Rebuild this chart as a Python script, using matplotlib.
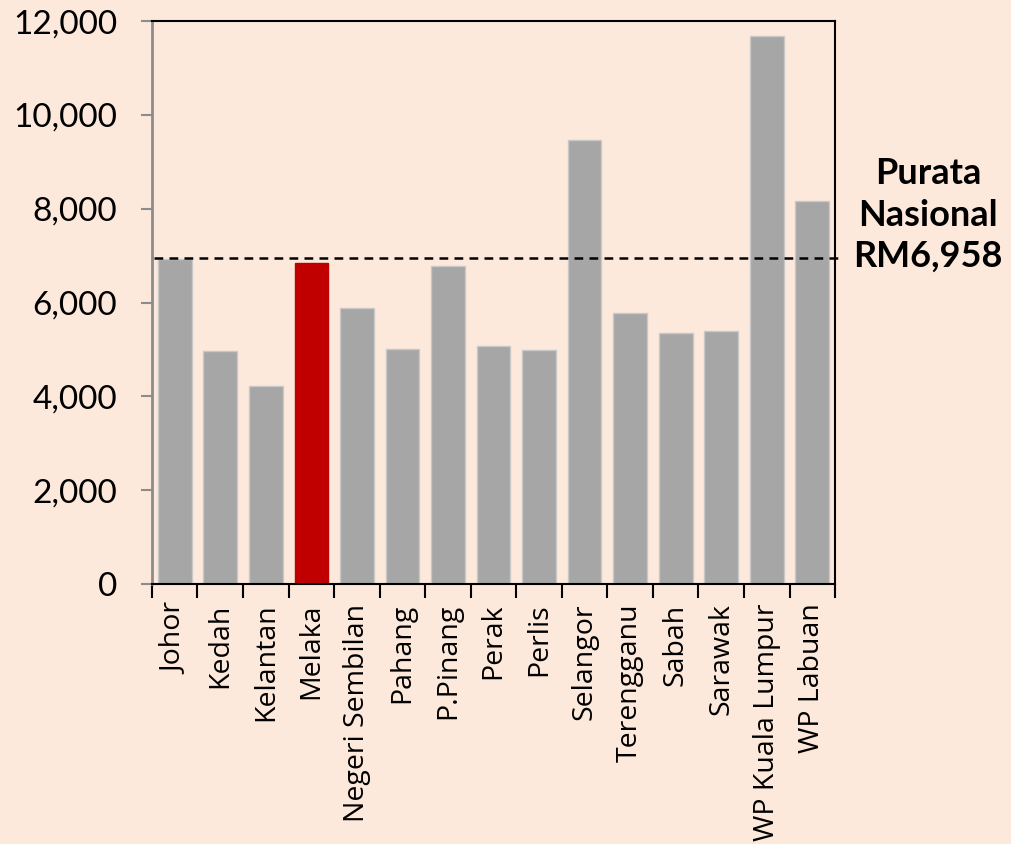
import matplotlib
matplotlib.use("Agg")
import matplotlib.pyplot as plt
from matplotlib.ticker import FuncFormatter

# data
states = ["Johor", "Kedah", "Kelantan", "Melaka", "Negeri Sembilan", "Pahang",
          "P.Pinang", "Perak", "Perlis", "Selangor", "Terengganu", "Sabah",
          "Sarawak", "WP Kuala Lumpur", "WP Labuan"]
income = [6928, 4971, 4214, 6841, 5887, 5012, 6771, 5065, 4998, 9463,
          5772, 5354, 5387, 11692, 8174]
national_avg = 6958
highlight = "Melaka"

BG = "#FDE9DB"
GREY = "#A6A6A6"
RED = "#C00000"

plt.rcParams["font.family"] = ["Lato", "DejaVu Sans"]

fig = plt.figure(figsize=(10.11, 8.44), dpi=100, facecolor=BG)
ax = fig.add_axes([0.1503, 0.308, 0.6757, 0.667])
ax.set_facecolor(BG)

colors = [RED if s == highlight else GREY for s in states]
edges = [RED if s == highlight else "#C8C8C8" for s in states]
x = range(len(states))
ax.bar(x, income, width=0.74, color=colors, edgecolor=edges, linewidth=1.0, zorder=2)

ax.set_xlim(-0.5, len(states) - 0.5)
ax.set_ylim(0, 12000)

# national average line, runs a bit past the right spine
ax.plot([-0.45, len(states) - 0.33], [national_avg, national_avg], color="black",
        linestyle=(0, (3.5, 2.5)), linewidth=1.8, clip_on=False, zorder=3)

fig.text(928 / 1011, 1 - 215 / 844, "Purata\nNasional\nRM6,{:03d}".format(national_avg % 1000),
         ha="center", va="center", fontsize=26, fontweight="bold", linespacing=1.32)

ax.set_yticks(range(0, 12001, 2000))
ax.yaxis.set_major_formatter(FuncFormatter(lambda v, p: f"{int(v):,}"))
ax.tick_params(axis="y", labelsize=24, length=8, width=1.5, color="#8C8C8C", pad=17)

ax.set_xticks(list(x))
ax.set_xticklabels(states, rotation=90, fontsize=20.5, family=["Open Sans", "DejaVu Sans"])
ax.set_xticks([i - 0.5 for i in range(len(states) + 1)], minor=True)
ax.tick_params(axis="x", which="major", length=0, pad=14)
ax.tick_params(axis="x", which="minor", length=10, width=1.5, color="black")

ax.spines["left"].set_color("#8C8C8C")
ax.spines["left"].set_linewidth(2)
for side in ["top", "right", "bottom"]:
    ax.spines[side].set_color("black")
    ax.spines[side].set_linewidth(1.5)

fig.savefig("out.png", dpi=100, facecolor=BG)
